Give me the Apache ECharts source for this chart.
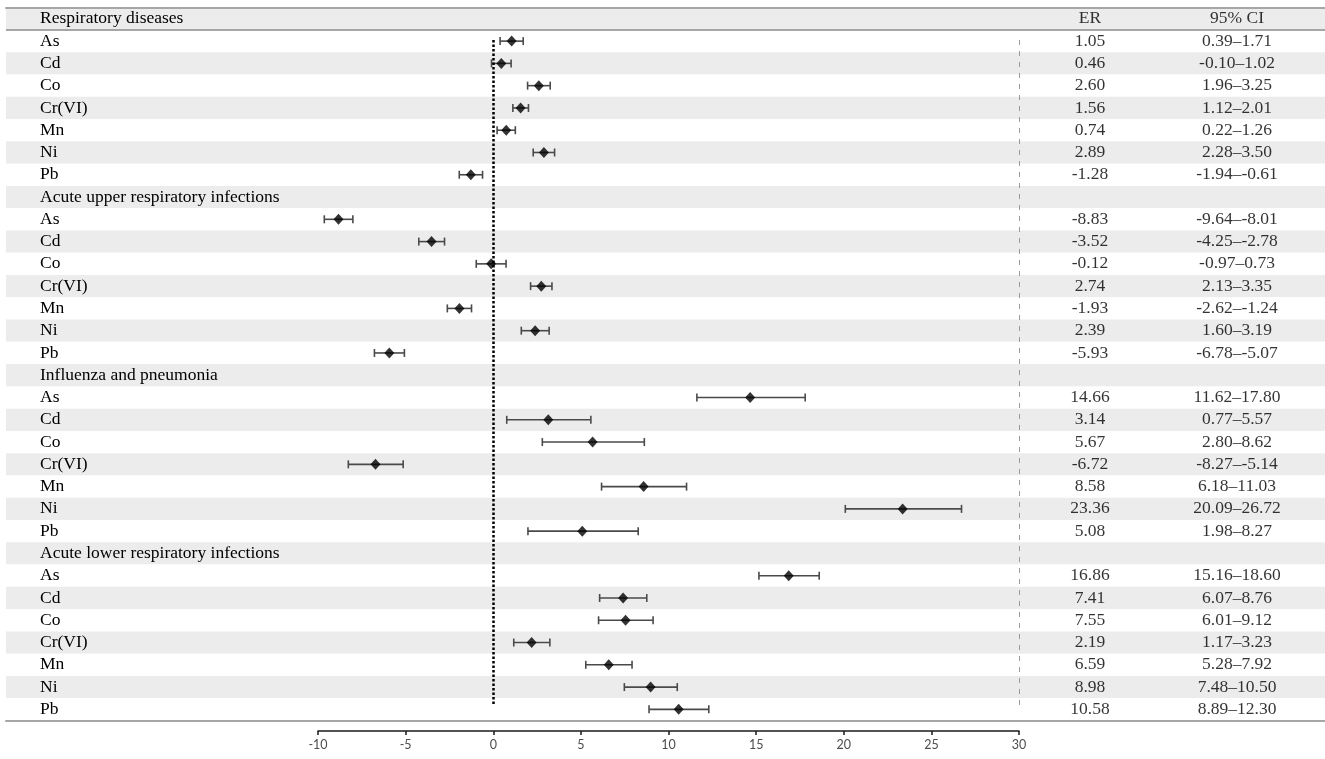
<!DOCTYPE html>
<html><head><meta charset="utf-8">
<script src="https://cdn.jsdelivr.net/npm/echarts@6/dist/echarts.min.js"></script>
<style>html,body{margin:0;padding:0;background:#fff}#c{width:1325px;height:759px}</style>
</head><body><div id="c"></div>
<script>
const groups = ['Respiratory diseases', 'Acute upper respiratory infections', 'Influenza and pneumonia', 'Acute lower respiratory infections'];
const metals = ['As', 'Cd', 'Co', 'Cr(VI)', 'Mn', 'Ni', 'Pb'];
const colHeaders = ['ER', '95% CI'];

const erResp = [1.05, 0.46, 2.60, 1.56, 0.74, 2.89, -1.28];
const loResp = [0.39, -0.10, 1.96, 1.12, 0.22, 2.28, -1.94];
const hiResp = [1.71, 1.02, 3.25, 2.01, 1.26, 3.50, -0.61];

const erUpper = [-8.83, -3.52, -0.12, 2.74, -1.93, 2.39, -5.93];
const loUpper = [-9.64, -4.25, -0.97, 2.13, -2.62, 1.60, -6.78];
const hiUpper = [-8.01, -2.78, 0.73, 3.35, -1.24, 3.19, -5.07];

const erFlu = [14.66, 3.14, 5.67, -6.72, 8.58, 23.36, 5.08];
const loFlu = [11.62, 0.77, 2.80, -8.27, 6.18, 20.09, 1.98];
const hiFlu = [17.80, 5.57, 8.62, -5.14, 11.03, 26.72, 8.27];

const erLower = [16.86, 7.41, 7.55, 2.19, 6.59, 8.98, 10.58];
const loLower = [15.16, 6.07, 6.01, 1.17, 5.28, 7.48, 8.89];
const hiLower = [18.60, 8.76, 9.12, 3.23, 7.92, 10.50, 12.30];

const xMin = -10, xMax = 30, xStep = 5;

// ---- build table rows ----
const groupData = [
  [erResp, loResp, hiResp],
  [erUpper, loUpper, hiUpper],
  [erFlu, loFlu, hiFlu],
  [erLower, loLower, hiLower]
];
const rows = [];
groups.forEach((g, gi) => {
  rows.push({ label: g, header: true, first: gi === 0 });
  metals.forEach((m, mi) => {
    const [er, lo, hi] = groupData[gi];
    rows.push({ label: m, er: er[mi], lo: lo[mi], hi: hi[mi] });
  });
});
const N = rows.length;

const ER_X = 1084, CI_X = 1231;   // in grid0 coordinates (grid0 starts at x=6)
const serif = '"Liberation Serif", "Times New Roman", serif';
const textColor = '#000000';
const FS = 17.5;

const erText = [], ciText = [], points = [], bars = [];
rows.forEach((r, i) => {
  const y = i + 0.5;
  if (r.header) {
    if (r.first) {
      erText.push([ER_X, y, colHeaders[0]]);
      ciText.push([CI_X, y, colHeaders[1]]);
    }
  } else {
    erText.push([ER_X, y, r.er.toFixed(2)]);
    ciText.push([CI_X, y, r.lo.toFixed(2) + '\u2013' + r.hi.toFixed(2)]);
    points.push([r.er, y]);
    bars.push([r.lo, r.hi, y]);
  }
});

const textLabel = {
  show: true, position: 'inside', formatter: p => p.value[2],
  fontFamily: serif, fontSize: FS, color: textColor, align: 'center', verticalAlign: 'middle'
};

const TOP = 7.7, BOTTOM = 38.5;
const chart = echarts.init(document.getElementById('c'), null, { renderer: 'canvas' });
chart.setOption({
  animation: false,
  backgroundColor: '#ffffff',
  grid: [
    { left: 6, right: 0, top: TOP, bottom: BOTTOM },
    { left: 318, right: 306, top: TOP, bottom: BOTTOM }
  ],
  xAxis: [
    { gridIndex: 0, type: 'value', min: 0, max: 1319, position: 'top', offset: 2,
      axisLine: { show: true, lineStyle: { color: '#a6a6a6', width: 2 } },
      axisTick: { show: false }, axisLabel: { show: false }, splitLine: { show: false } },
    { gridIndex: 0, type: 'value', min: 0, max: 1319, position: 'bottom',
      axisLine: { show: true, lineStyle: { color: '#a6a6a6', width: 2 } },
      axisTick: { show: false }, axisLabel: { show: false }, splitLine: { show: false } },
    { gridIndex: 1, type: 'value', min: xMin, max: xMax, interval: xStep, position: 'bottom', offset: 10.5,
      axisLine: { show: true, onZero: false, lineStyle: { color: '#1a1a1a', width: 1.5 } },
      axisTick: { show: true, length: 4, lineStyle: { color: '#1a1a1a', width: 1.5 } },
      axisLabel: { color: '#4d4d4d', fontSize: 12.5, margin: 7, fontFamily: 'Lato, "Open Sans", sans-serif' },
      splitLine: { show: false } }
  ],
  yAxis: [
    { gridIndex: 0, type: 'category', inverse: true, data: rows.map((r, i) => String(i)),
      axisLine: { show: false }, axisTick: { show: false },
      axisLabel: { show: true, inside: true, margin: 34, interval: 0, align: 'left',
        formatter: v => rows[+v].label, fontFamily: serif, fontSize: FS, color: textColor },
      splitLine: { show: false },
      splitArea: { show: true, interval: 0, areaStyle: { color: ['#ececec', '#ffffff'] } } },
    { gridIndex: 0, type: 'value', min: 0, max: N, inverse: true, show: false },
    { gridIndex: 1, type: 'value', min: 0, max: N, inverse: true, show: false }
  ],
  series: [
    { type: 'scatter', xAxisIndex: 0, yAxisIndex: 1, data: erText, symbolSize: 1,
      itemStyle: { color: 'rgba(0,0,0,0)' }, label: textLabel, silent: true,
      markLine: { silent: true, symbol: 'none', label: { show: false },
        lineStyle: { color: '#a6a6a6', width: 2, type: 'solid' },
        data: [{ yAxis: 1 }] } },
    { type: 'scatter', xAxisIndex: 0, yAxisIndex: 1, data: ciText, symbolSize: 1,
      itemStyle: { color: 'rgba(0,0,0,0)' }, label: textLabel, silent: true },
    { type: 'custom', xAxisIndex: 2, yAxisIndex: 2, data: bars, encode: { x: [0, 1], y: 2 },
      renderItem: (params, api) => {
        const y = api.value(2);
        const p1 = api.coord([api.value(0), y]);
        const p2 = api.coord([api.value(1), y]);
        const h = 4;
        const style = { stroke: '#4a4a4a', lineWidth: 1.6, fill: null };
        return { type: 'group', children: [
          { type: 'line', shape: { x1: p1[0], y1: p1[1], x2: p2[0], y2: p2[1] }, style },
          { type: 'line', shape: { x1: p1[0], y1: p1[1] - h, x2: p1[0], y2: p1[1] + h }, style },
          { type: 'line', shape: { x1: p2[0], y1: p2[1] - h, x2: p2[0], y2: p2[1] + h }, style }
        ] };
      }, z: 3 },
    { type: 'scatter', xAxisIndex: 2, yAxisIndex: 2, data: points, symbol: 'diamond', symbolSize: [10, 11],
      itemStyle: { color: '#000000' }, z: 5,
      markLine: { silent: true, symbol: 'none', label: { show: false }, animation: false,
        data: [
          [{ coord: [0, 1.45], lineStyle: { color: '#000000', width: 2.5, type: [2.5, 2] } },
           { coord: [0, 31.35] }],
          [{ coord: [xMax, 1.45], lineStyle: { color: '#9a9a9a', width: 1, type: [5, 6] } },
           { coord: [xMax, 31.35] }]
        ] } }
  ]
});
</script></body></html>
